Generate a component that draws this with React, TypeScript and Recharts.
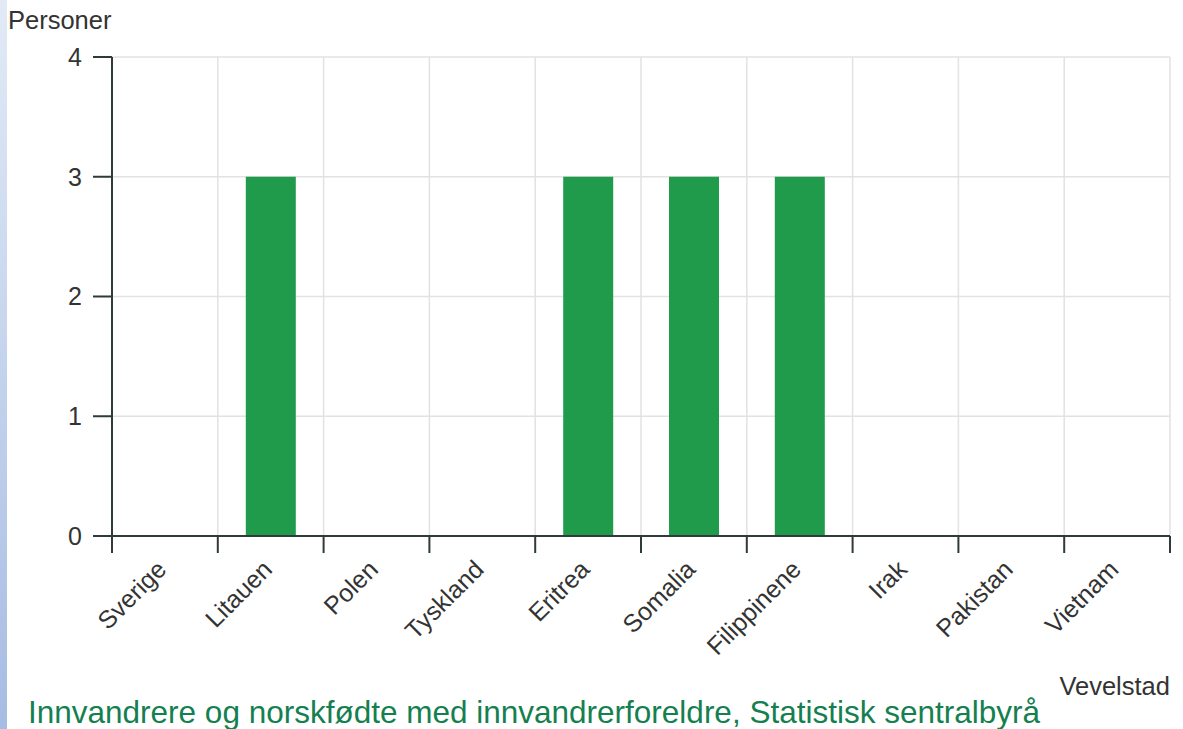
import React from "react";
import { BarChart, Bar, XAxis, YAxis, CartesianGrid } from "recharts";

const categories = ["Sverige", "Litauen", "Polen", "Tyskland", "Eritrea", "Somalia", "Filippinene", "Irak", "Pakistan", "Vietnam"];
const values = [0, 3, 0, 0, 3, 3, 3, 0, 0, 0];
const yTicks = [0, 1, 2, 3, 4];

const data = categories.map((name, i) => ({ name, value: values[i] }));

const AXIS = "#2f3b3b";
const TEXT = "#333333";
const FONT = "'Liberation Sans', Arial, sans-serif";
const X_TICK_LEN = 17;

const CatTick = (props: any) => {
  const { x, y, payload, index, visibleTicksCount } = props;
  const half = payload && typeof payload.offset === "number" ? payload.offset : 0;
  const isLast = index === visibleTicksCount - 1;
  return (
    <g>
      <line x1={x - half} x2={x - half} y1={y} y2={y + X_TICK_LEN} stroke={AXIS} strokeWidth={2} />
      {isLast && <line x1={x + half} x2={x + half} y1={y} y2={y + X_TICK_LEN} stroke={AXIS} strokeWidth={2} />}
      <g transform={`translate(${x + 3},${y + 35})`}>
        <text transform="rotate(-45)" textAnchor="end" fill={TEXT} fontSize={25} fontFamily={FONT}>
          {payload.value}
        </text>
      </g>
    </g>
  );
};

const gridX = ({ offset }: any) => {
  const n = categories.length;
  return Array.from({ length: n + 1 }, (_, i) => offset.left + (offset.width * i) / n);
};

export default function App() {
  return (
    <div style={{ position: "absolute", left: 0, top: 0, width: 1183, height: 729, background: "#fff", overflow: "hidden", fontFamily: FONT }}>
      <div style={{ position: "absolute", left: 0, top: 0, width: 7, height: 729, background: "linear-gradient(#e2eaf6, #a7bce3)" }} />
      <div style={{ position: "absolute", left: 8, top: 5, fontSize: 25.5, color: TEXT, lineHeight: "30px" }}>Personer</div>
      <BarChart width={1183} height={729} data={data} margin={{ top: 57, right: 13, left: 0, bottom: 192 }}>
        <CartesianGrid stroke="#e2e2e2" strokeWidth={1.5} verticalCoordinatesGenerator={gridX} />
        <XAxis dataKey="name" type="category" height={1} stroke={AXIS} strokeWidth={2}
          axisLine={{ stroke: AXIS, strokeWidth: 2 }} tickLine={false}
          tickSize={0} tickMargin={0} tick={CatTick} interval={0} />
        <YAxis type="number" domain={[0, 4]} ticks={yTicks} width={112} tickSize={19} tickMargin={11}
          stroke={AXIS} strokeWidth={2} tickLine={{ stroke: AXIS, strokeWidth: 2 }}
          tick={{ fill: TEXT, fontSize: 25, fontFamily: FONT }} />
        <Bar dataKey="value" fill="#1f9b4b" barSize={50} isAnimationActive={false} />
      </BarChart>
      <div style={{ position: "absolute", right: 13, top: 671, fontSize: 25.5, color: TEXT, lineHeight: "30px" }}>Vevelstad</div>
      <div style={{ position: "absolute", left: 28, top: 694, fontSize: 31.5, color: "#14804f", lineHeight: "36px", whiteSpace: "nowrap" }}>
        Innvandrere og norskfødte med innvandrerforeldre, Statistisk sentralbyrå
      </div>
    </div>
  );
}
